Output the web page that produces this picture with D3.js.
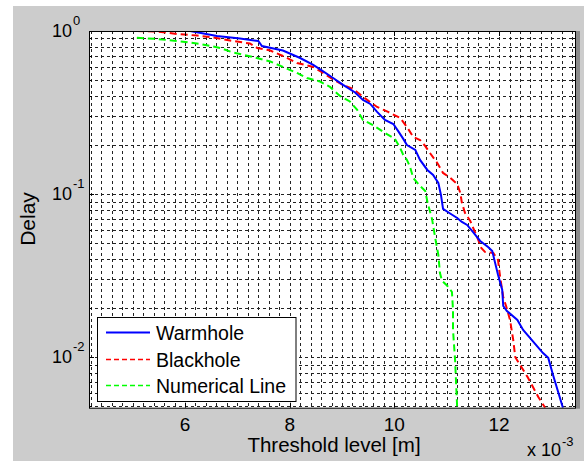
<!DOCTYPE html>
<html>
<head>
<meta charset="utf-8">
<script src="https://cdn.jsdelivr.net/npm/d3@7"></script>
<style>
body { margin: 0; background: #fff; }
text { font-family: "Liberation Sans", Arial, sans-serif; fill: #000; }
</style>
</head>
<body>
<svg id="chart" width="584" height="461"></svg>
<script>
// threshold level (x 10^-3 m) and delay
var warmX = [4.17, 6.10, 6.61, 7.05, 7.40, 7.47, 7.87, 8.20, 8.45, 8.64, 8.83, 9.02, 9.25, 9.40, 9.54, 9.67, 9.82, 9.98, 10.07, 10.17, 10.24, 10.40, 10.49, 10.63, 10.74, 10.84, 10.89, 10.93, 11.05, 11.20, 11.29, 11.39, 11.50, 11.64, 11.79, 11.87, 11.92, 11.98, 12.06, 12.08, 12.15, 12.35, 12.46, 12.84, 12.94, 13.03, 13.22];
var warmY = [1, 1, 0.932, 0.900, 0.868, 0.809, 0.759, 0.683, 0.619, 0.565, 0.515, 0.467, 0.420, 0.378, 0.357, 0.319, 0.285, 0.269, 0.244, 0.218, 0.200, 0.1865, 0.162, 0.1406, 0.131, 0.117, 0.0988, 0.0811, 0.0766, 0.0714, 0.0675, 0.0647, 0.0586, 0.0516, 0.0474, 0.0448, 0.0384, 0.0320, 0.0259, 0.0206, 0.0192, 0.0169, 0.0147, 0.0106, 0.0099, 0.0078, 0.0049];

var blackX = [5.08, 5.47, 5.85, 6.23, 6.48, 6.86, 7.24, 7.38, 7.63, 7.87, 8.14, 8.45, 8.64, 8.83, 9.02, 9.21, 9.48, 9.67, 9.88, 10.11, 10.24, 10.36, 10.49, 10.59, 10.68, 10.82, 10.93, 11.07, 11.20, 11.26, 11.29, 11.35, 11.45, 11.58, 11.66, 11.73, 11.89, 11.98, 12.02, 12.08, 12.15, 12.21, 12.27, 12.31, 12.54, 12.75, 12.88];
var blackY = [1, 0.993, 0.958, 0.938, 0.919, 0.875, 0.838, 0.787, 0.759, 0.703, 0.637, 0.602, 0.553, 0.504, 0.467, 0.441, 0.378, 0.342, 0.319, 0.293, 0.258, 0.224, 0.2147, 0.197, 0.1787, 0.1552, 0.1348, 0.1256, 0.1154, 0.1016, 0.0883, 0.0766, 0.0684, 0.0546, 0.0468, 0.0442, 0.0436, 0.0395, 0.0311, 0.0234, 0.0198, 0.0169, 0.0128, 0.0100, 0.0076, 0.0057, 0.0049];

var numX = [5.08, 5.47, 5.85, 6.29, 6.67, 6.92, 7.30, 7.63, 7.87, 8.14, 8.33, 8.58, 8.77, 8.96, 9.15, 9.29, 9.40, 9.59, 9.82, 10.01, 10.11, 10.17, 10.24, 10.30, 10.36, 10.49, 10.59, 10.64, 10.72, 10.78, 10.84, 10.87, 10.91, 11.01, 11.10, 11.12, 11.12, 11.16, 11.20];
var numY = [0.910, 0.893, 0.868, 0.833, 0.787, 0.738, 0.693, 0.650, 0.602, 0.553, 0.515, 0.490, 0.454, 0.400, 0.370, 0.328, 0.285, 0.265, 0.237, 0.218, 0.192, 0.1738, 0.162, 0.1467, 0.1256, 0.1122, 0.1045, 0.0870, 0.0704, 0.0538, 0.0424, 0.0329, 0.0294, 0.0274, 0.0251, 0.0195, 0.0147, 0.0096, 0.0049];

var seriesNames = ["Warmhole", "Blackhole", "Numerical Line"];
var seriesColors = ["#0000ff", "#ff0000", "#00ff00"];
var xTicks = [6, 8, 10, 12];
var yTicks = [0.01, 0.1, 1];
var yTickExp = ["-2", "-1", "0"];

var svg = d3.select("#chart");

// figure background
svg.append("rect").attr("x", 13).attr("y", 6).attr("width", 571).attr("height", 455).attr("fill", "#cccccc");

var axL = 89, axT = 31, axR = 576, axB = 407.7;
var x = d3.scaleLinear().domain([4.166, 13.47]).range([axL, axR]);
var y = d3.scaleLog().domain([0.0049, 1]).range([axB, axT]);

svg.append("rect").attr("x", axL).attr("y", axT).attr("width", axR - axL).attr("height", axB - axT).attr("fill", "#fff");

svg.append("clipPath").attr("id", "clip")
.append("rect").attr("x", axL).attr("y", axT).attr("width", axR - axL).attr("height", axB - axT);

var plot = svg.append("g").attr("clip-path", "url(#clip)");

// grid (minor + major, dotted like matlab)
var xGrid = d3.range(4.2, 13.47, 0.2);
var yGrid = [];
[-3, -2, -1].forEach(function(k) {
  for (var m = 1; m <= 9; m++) yGrid.push(m * Math.pow(10, k));
});
yGrid.push(1);

plot.selectAll(".xg").data(xGrid).enter().append("line")
.attr("x1", function(d) { return Math.round(x(d)) + 0.5; })
.attr("x2", function(d) { return Math.round(x(d)) + 0.5; })
.attr("y1", axT).attr("y2", axB)
.attr("stroke", "#222").attr("stroke-width", 1).attr("stroke-dasharray", "3,3");

plot.selectAll(".yg").data(yGrid).enter().append("line")
.attr("x1", axL).attr("x2", axR)
.attr("y1", function(d) { return Math.round(y(d)) + 0.5; })
.attr("y2", function(d) { return Math.round(y(d)) + 0.5; })
.attr("stroke", "#222").attr("stroke-width", 1).attr("stroke-dasharray", "3,3");

// curves
var line = d3.line()
.x(function(d) { return x(d[0]); })
.y(function(d) { return y(d[1]); });

var series = [
  {xs: blackX, ys: blackY, dash: "7,4", c: 1},
  {xs: numX, ys: numY, dash: "7,4", c: 2},
  {xs: warmX, ys: warmY, dash: null, c: 0}
];
series.forEach(function(s) {
  var pts = s.xs.map(function(v, j) { return [v, s.ys[j]]; });
  plot.append("path")
  .datum(pts)
  .attr("fill", "none")
  .attr("stroke", seriesColors[s.c])
  .attr("stroke-width", 2)
  .attr("stroke-dasharray", s.dash)
  .attr("d", line);
});

// ticks inside the box
var tk = svg.append("g").attr("stroke", "#000").attr("stroke-width", 1);
xTicks.forEach(function(d) {
  var px = Math.round(x(d)) + 0.5;
  tk.append("line").attr("x1", px).attr("x2", px).attr("y1", axB).attr("y2", axB - 5);
  tk.append("line").attr("x1", px).attr("x2", px).attr("y1", axT).attr("y2", axT + 5);
});
yGrid.forEach(function(d) {
  if (d < 0.0049) return;
  var py = Math.round(y(d)) + 0.5;
  var len = yTicks.indexOf(d) >= 0 ? 5 : 3;
  tk.append("line").attr("x1", axL).attr("x2", axL + len).attr("y1", py).attr("y2", py);
  tk.append("line").attr("x1", axR - len).attr("x2", axR).attr("y1", py).attr("y2", py);
});

// box
svg.append("rect").attr("x", axL + 0.5).attr("y", axT + 0.5).attr("width", axR - axL - 1).attr("height", axB - axT)
.attr("fill", "none").attr("stroke", "#000").attr("stroke-width", 1);
svg.append("rect").attr("x", axR).attr("y", axT).attr("width", 4).attr("height", axB - axT + 1).attr("fill", "#8a8a8a");

// tick labels
svg.selectAll(".xl").data(xTicks).enter().append("text")
.attr("x", function(d) { return x(d); })
.attr("y", 431)
.attr("text-anchor", "middle")
.style("font-size", "19px")
.text(function(d) { return d; });

yTicks.forEach(function(d, i) {
  var py = y(d);
  svg.append("text").attr("x", 72).attr("y", py + 6).attr("text-anchor", "end").style("font-size", "18px").text("10");
  svg.append("text").attr("x", 73).attr("y", py - 6).style("font-size", "13px").text(yTickExp[i]);
});

// axis labels
svg.append("text").attr("x", 334).attr("y", 452).attr("text-anchor", "middle").style("font-size", "20.5px").text("Threshold level [m]");
svg.append("text").attr("transform", "translate(35,219) rotate(-90)").attr("text-anchor", "middle").style("font-size", "21px").text("Delay");
svg.append("text").attr("x", 527).attr("y", 456).style("font-size", "18px").text("x 10");
svg.append("text").attr("x", 562).attr("y", 446).style("font-size", "13px").text("-3");

// legend
var lg = svg.append("g");
lg.append("rect").attr("x", 97.5).attr("y", 317.5).attr("width", 198.5).attr("height", 84)
.attr("fill", "#fff").attr("stroke", "#000").attr("stroke-width", 1);
var legY = [332.5, 359.5, 385.5];
var legDash = [null, "5,3", "5,3"];
seriesNames.forEach(function(name, i) {
  lg.append("line").attr("x1", 106).attr("x2", 150).attr("y1", legY[i]).attr("y2", legY[i])
  .attr("stroke", seriesColors[i]).attr("stroke-width", i == 0 ? 2 : 1.5).attr("stroke-dasharray", legDash[i]);
  lg.append("text").attr("x", 156).attr("y", legY[i] + 7.5).style("font-size", "19.5px").text(name);
});
</script>
</body>
</html>
